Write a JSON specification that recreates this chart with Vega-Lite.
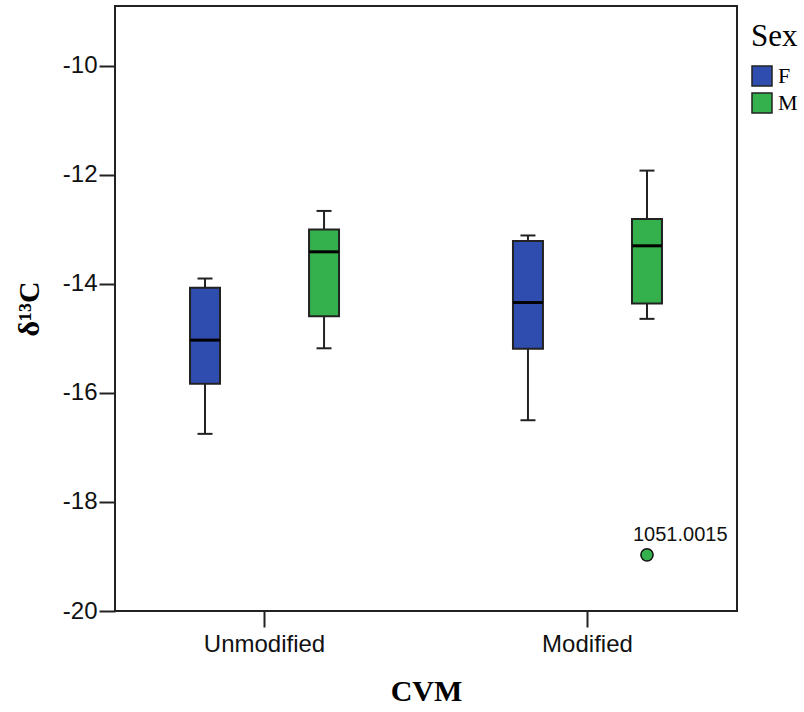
{
  "$schema": "https://vega.github.io/schema/vega-lite/v6.json",
  "width": 622,
  "height": 605,
  "autosize": {"type": "none"},
  "padding": {"left": 115, "top": 6, "right": 67, "bottom": 101},
  "background": "white",
  "datasets": {
    "boxes": [
      {"CVM": "Unmodified", "Sex": "F", "min": -16.75, "q1": -15.83, "median": -15.03, "q3": -14.07, "max": -13.9},
      {"CVM": "Unmodified", "Sex": "M", "min": -15.18, "q1": -14.59, "median": -13.41, "q3": -13.0, "max": -12.66},
      {"CVM": "Modified", "Sex": "F", "min": -16.5, "q1": -15.19, "median": -14.34, "q3": -13.21, "max": -13.11},
      {"CVM": "Modified", "Sex": "M", "min": -14.64, "q1": -14.36, "median": -13.3, "q3": -12.81, "max": -11.92}
    ],
    "outliers": [
      {"CVM": "Modified", "Sex": "M", "value": -18.97, "label": "1051.0015"}
    ]
  },
  "encoding": {
    "x": {
      "field": "CVM",
      "type": "nominal",
      "sort": ["Unmodified", "Modified"],
      "scale": {"domain": ["Unmodified", "Modified"], "paddingInner": 0.4, "paddingOuter": 0.163},
      "axis": {
        "title": "CVM",
        "labelAngle": 0,
        "labelFont": "Liberation Sans",
        "labelFontSize": 24,
        "labelColor": "#111",
        "labelPadding": 5,
        "tickSize": 16,
        "tickWidth": 2,
        "tickColor": "#222",
        "domain": false,
        "titleFont": "Liberation Serif",
        "titleFontSize": 30,
        "titleFontWeight": "bold",
        "titleColor": "#000",
        "titlePadding": 20
      }
    },
    "xOffset": {
      "field": "Sex",
      "type": "nominal",
      "scale": {"domain": ["F", "M"], "paddingInner": 0.748, "paddingOuter": 0.188}
    }
  },
  "layer": [
    {
      "data": {"name": "boxes"},
      "mark": {"type": "rule", "color": "#222", "strokeWidth": 2},
      "encoding": {
        "y": {
          "field": "min",
          "type": "quantitative",
          "scale": {"domain": [-20, -8.9], "nice": false, "zero": false},
          "axis": {
            "title": "δ¹³C",
            "values": [-20, -18, -16, -14, -12, -10],
            "labelExpr": "datum.value < 0 ? '-' + abs(datum.value) : '' + datum.value",
            "grid": false,
            "domain": false,
            "labelFont": "Liberation Sans",
            "labelFontSize": 24,
            "labelColor": "#111",
            "labelPadding": 2,
            "tickSize": 16,
            "tickWidth": 2,
            "tickColor": "#222",
            "titleFont": "Liberation Serif",
            "titleFontSize": 30,
            "titleFontWeight": "bold",
            "titleColor": "#000",
            "titlePadding": 18
          }
        },
        "y2": {"field": "max"}
      }
    },
    {
      "data": {"name": "boxes"},
      "mark": {"type": "tick", "color": "#222", "size": 15, "thickness": 2, "opacity": 1},
      "encoding": {"y": {"field": "min", "type": "quantitative"}}
    },
    {
      "data": {"name": "boxes"},
      "mark": {"type": "tick", "color": "#222", "size": 15, "thickness": 2, "opacity": 1},
      "encoding": {"y": {"field": "max", "type": "quantitative"}}
    },
    {
      "data": {"name": "boxes"},
      "mark": {"type": "bar", "stroke": "#222", "strokeWidth": 2, "opacity": 1},
      "encoding": {
        "y": {"field": "q1", "type": "quantitative"},
        "y2": {"field": "q3"},
        "fill": {
          "field": "Sex",
          "type": "nominal",
          "scale": {"domain": ["F", "M"], "range": ["#2F4DAF", "#34B04C"]},
          "legend": {
            "title": "Sex",
            "orient": "none",
            "legendX": 636,
            "legendY": 16,
            "padding": 0,
            "titleFont": "Liberation Serif",
            "titleFontSize": 31,
            "titleFontWeight": "normal",
            "titleColor": "#000",
            "titlePadding": 12,
            "labelFont": "Liberation Serif",
            "labelFontSize": 22,
            "labelColor": "#000",
            "labelOffset": 5,
            "symbolType": "square",
            "symbolSize": 400,
            "symbolStrokeColor": "#222",
            "symbolStrokeWidth": 1.5,
            "rowPadding": 1
          }
        }
      }
    },
    {
      "data": {"name": "boxes"},
      "mark": {"type": "tick", "color": "#000", "size": 30, "thickness": 3, "opacity": 1},
      "encoding": {"y": {"field": "median", "type": "quantitative"}}
    },
    {
      "data": {"name": "outliers"},
      "mark": {"type": "point", "shape": "circle", "filled": true, "fill": "#34B04C", "stroke": "#111", "strokeWidth": 1.5, "size": 150, "opacity": 1},
      "encoding": {"y": {"field": "value", "type": "quantitative"}}
    },
    {
      "data": {"name": "outliers"},
      "mark": {"type": "text", "align": "left", "baseline": "alphabetic", "dx": -14, "dy": -14, "font": "Liberation Sans", "fontSize": 20, "color": "#111"},
      "encoding": {
        "y": {"field": "value", "type": "quantitative"},
        "text": {"field": "label"}
      }
    }
  ],
  "config": {
    "view": {"stroke": "#222", "strokeWidth": 2}
  }
}
